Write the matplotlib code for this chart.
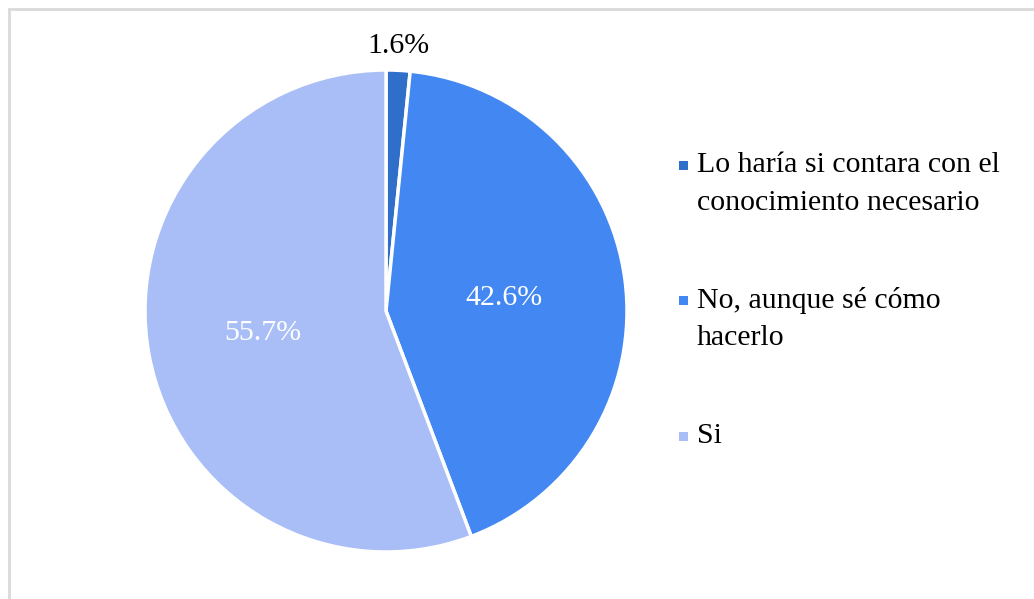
import matplotlib.pyplot as plt
from matplotlib.patches import Rectangle

categories = ["Lo haría si contara con el\nconocimiento necesario",
              "No, aunque sé cómo\nhacerlo",
              "Si"]
shares = [1.6, 42.6, 55.7]
colors = ["#2F6FC9", "#4287F2", "#A9BEF6"]

plt.rcParams['font.family'] = ['Liberation Serif', 'DejaVu Serif']
FS = 21.5

W, H = 1034, 599
fig = plt.figure(figsize=(W / 100, H / 100), dpi=100)

# light grey chart frame, running off the right and bottom edges
fig.patches.append(Rectangle((8.5 / W, -0.05), 1.1, 1 - 8.5 / H + 0.05,
                             transform=fig.transFigure, fill=False,
                             edgecolor="#D9D9D9", linewidth=2))

cx, cy, r = 386, 311, 241
ax = fig.add_axes([(cx - r) / W, (H - cy - r) / H, 2 * r / W, 2 * r / H])
wedges, _ = ax.pie(shares, colors=colors, startangle=90, counterclock=False,
                   wedgeprops=dict(edgecolor="white", linewidth=2.5))
ax.set_xlim(-1, 1)
ax.set_ylim(-1, 1)
ax.set_aspect("equal")

ax.text(0.05, 1.10, f"{shares[0]}%", ha="center", va="center",
        fontsize=FS, color="black")
ax.text(0.49, 0.055, f"{shares[1]}%", ha="center", va="center",
        fontsize=FS, color="white")
ax.text(-0.51, -0.09, f"{shares[2]}%", ha="center", va="center",
        fontsize=FS, color="white")

# legend: square key beside the first line of each entry
first_line_y = [165, 300, 436]
line_gap = 38
for label, col, y in zip(categories, colors, first_line_y):
    fig.patches.append(Rectangle((679 / W, 1 - (y + 5) / H), 9 / W, 9 / H,
                                 transform=fig.transFigure,
                                 facecolor=col, edgecolor="none"))
    for i, line in enumerate(label.split("\n")):
        fig.text(697 / W, 1 - (y + i * line_gap) / H, line,
                 ha="left", va="center", fontsize=FS, color="black")

fig.savefig("out.png", dpi=100)
